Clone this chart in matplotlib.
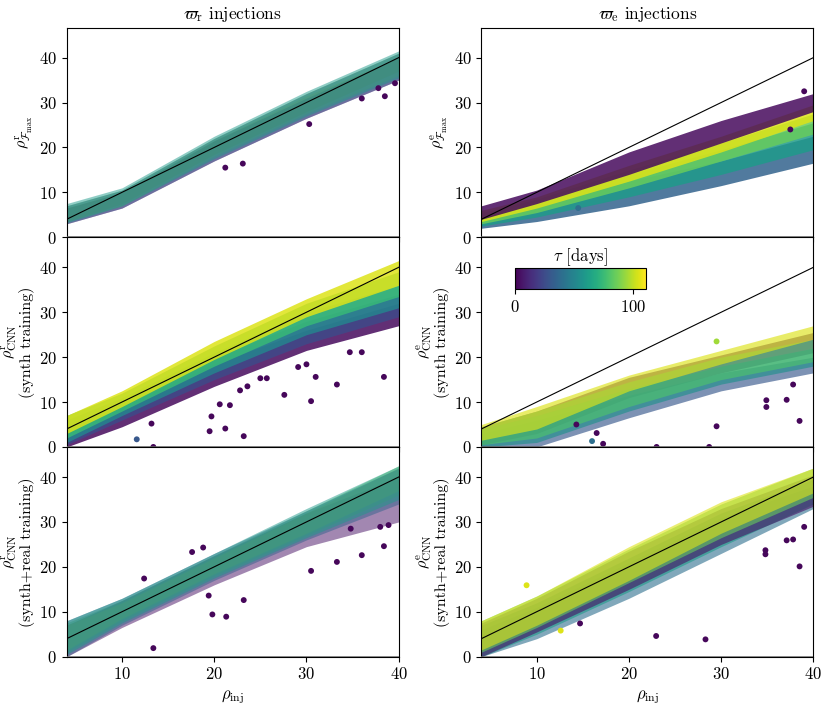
import numpy as np
import matplotlib
matplotlib.use("Agg")
import matplotlib.pyplot as plt
from matplotlib import cm, colors

plt.rcParams.update({
    "font.family": "serif",
    "font.serif": ["cmr10"],
    "mathtext.fontset": "cm",
    "axes.formatter.use_mathtext": True,
    "font.size": 12,
})

rho_inj = [4, 10, 20, 30, 40]

# --- row 1: F-statistic detection SNR ---
fmax_r_tau = [108, 5, 90, 30, 60]
fmax_r_lo = [[3.5, 7.5, 18.5, 28.0, 37.0], [3.0, 6.5, 17.0, 26.5, 35.0], [3.5, 7.0, 18.0, 27.5, 36.0],
             [3.0, 6.5, 17.0, 26.5, 35.0], [3.2, 7.0, 17.5, 27.0, 35.5]]
fmax_r_hi = [[6.5, 10.0, 21.5, 31.5, 40.0], [6.5, 10.0, 21.5, 31.0, 40.0], [7.0, 10.5, 22.0, 32.0, 41.0],
             [7.0, 10.5, 22.0, 32.0, 41.0], [7.5, 11.0, 22.5, 32.5, 41.5]]
fmax_r_out_x = [21.2, 23.1, 30.3, 38.5, 39.6, 37.8, 36.0]
fmax_r_out_y = [15.5, 16.4, 25.2, 31.4, 34.3, 33.2, 30.9]
fmax_r_out_tau = [2, 2, 2, 2, 2, 2, 2]

fmax_e_tau = [35, 60, 85, 105, 3]
fmax_e_lo = [[2.0, 3.5, 7.0, 11.5, 16.5], [2.5, 4.5, 9.0, 14.0, 19.5], [3.0, 5.5, 11.0, 17.0, 23.0],
             [3.5, 6.5, 12.5, 19.0, 26.0], [4.0, 7.5, 14.0, 21.0, 28.0]]
fmax_e_hi = [[4.0, 7.0, 12.5, 17.0, 22.5], [4.5, 7.5, 14.0, 19.5, 25.5], [5.5, 8.5, 15.0, 21.0, 27.5],
             [6.0, 9.0, 16.0, 22.5, 29.5], [7.0, 10.5, 19.0, 26.0, 32.0]]
fmax_e_out_x = [14.5, 37.5, 39.0]
fmax_e_out_y = [6.5, 24.0, 32.5]
fmax_e_out_tau = [40, 2, 2]

# --- row 2: CNN trained on synthetic data ---
cnn_r_tau = [3, 25, 50, 75, 105]
cnn_r_lo = [[0.0, 4.5, 13.5, 21.5, 27.0], [0.5, 6.0, 15.0, 23.0, 29.0], [1.0, 7.0, 16.5, 25.0, 31.0],
            [2.0, 8.0, 18.0, 27.0, 33.5], [3.0, 9.0, 19.5, 29.0, 36.0]]
cnn_r_hi = [[4.0, 9.0, 18.5, 26.0, 32.0], [5.0, 10.0, 20.0, 28.0, 34.0], [6.0, 11.0, 21.0, 30.0, 36.0],
            [7.0, 12.0, 22.5, 32.0, 39.0], [7.0, 12.5, 23.5, 33.0, 41.5]]
cnn_r_out_x = [30.0, 31.0, 29.1, 36.0, 34.7, 33.3, 30.5, 27.6, 38.4, 22.8, 23.6, 25.0, 25.7,
               20.6, 21.7, 19.7, 21.2, 19.5, 23.2, 13.2, 11.6, 13.4]
cnn_r_out_y = [18.4, 15.6, 17.8, 21.1, 21.1, 13.9, 10.2, 11.6, 15.6, 12.6, 13.5, 15.3, 15.3,
               9.5, 9.3, 6.8, 4.1, 3.5, 2.4, 5.2, 1.7, 0.0]
cnn_r_out_tau = [2] * 20 + [30, 2]

cnn_e_tau = [3, 30, 55, 80, 105]
cnn_e_lo = [[0.5, 3.0, 11.0, 16.5, 21.0], [0.0, 0.0, 6.5, 12.5, 16.5], [0.0, 1.0, 8.0, 14.0, 18.0],
            [0.5, 2.0, 9.0, 15.0, 19.0], [1.5, 4.0, 12.5, 18.5, 24.0]]
cnn_e_hi = [[4.5, 8.0, 15.5, 20.5, 25.5], [3.0, 6.0, 11.5, 16.5, 20.0], [4.0, 7.0, 13.0, 18.0, 22.0],
            [4.5, 8.0, 14.5, 20.0, 24.0], [5.0, 9.0, 16.0, 21.5, 27.0]]
cnn_e_out_x = [38.5, 37.1, 34.9, 34.9, 37.8, 29.5, 23.0, 28.7, 17.2, 16.0, 16.5, 14.3, 29.5]
cnn_e_out_y = [5.8, 10.5, 10.4, 8.9, 13.9, 4.6, 0.0, 0.0, 0.7, 1.3, 3.1, 5.0, 23.5]
cnn_e_out_tau = [2, 2, 2, 2, 2, 2, 2, 2, 2, 40, 2, 2, 95]

# --- row 3: CNN trained on synthetic + real data ---
real_r_tau = [5, 105, 85, 35, 60]
real_r_lo = [[0.0, 6.5, 16.0, 24.5, 30.0], [1.5, 8.5, 18.5, 27.5, 37.0], [1.0, 8.0, 18.0, 27.0, 36.0],
             [0.0, 7.0, 17.0, 26.0, 34.0], [0.5, 7.5, 17.5, 26.5, 35.0]]
real_r_hi = [[7.0, 12.5, 22.5, 32.0, 40.0], [7.0, 12.0, 22.0, 32.0, 42.0], [7.5, 12.5, 22.5, 32.5, 42.5],
             [8.0, 13.0, 23.0, 32.5, 42.0], [8.0, 13.0, 23.0, 33.0, 42.5]]
real_r_out_x = [38.4, 36.0, 33.3, 30.5, 23.2, 21.3, 19.8, 13.4, 19.4, 38.9, 38.0, 34.8, 18.8, 17.6, 12.4]
real_r_out_y = [24.6, 22.6, 21.1, 19.1, 12.6, 8.9, 9.4, 1.9, 13.6, 29.3, 28.9, 28.5, 24.3, 23.3, 17.4]
real_r_out_tau = [2] * 15

real_e_tau = [40, 60, 5, 85, 105]
real_e_lo = [[0.0, 4.0, 13.0, 23.0, 33.0], [0.0, 5.0, 14.5, 24.5, 34.0], [0.0, 5.5, 15.0, 25.0, 33.5],
             [1.0, 6.5, 16.5, 26.5, 35.5], [1.5, 7.0, 17.0, 27.5, 36.5]]
real_e_hi = [[6.0, 11.0, 21.0, 31.0, 38.0], [7.0, 12.0, 22.0, 32.0, 39.5], [7.5, 13.0, 23.5, 33.0, 40.5],
             [8.0, 13.5, 24.0, 34.0, 42.0], [8.0, 13.5, 24.5, 34.5, 42.0]]
real_e_out_x = [38.5, 34.8, 34.8, 37.1, 37.8, 39.0, 22.95, 28.3, 14.7, 8.9, 12.6]
real_e_out_y = [20.1, 22.8, 23.7, 25.9, 26.1, 28.9, 4.6, 3.85, 7.4, 15.9, 5.8]
real_e_out_tau = [2, 2, 2, 2, 2, 2, 2, 2, 2, 105, 105]

panels = [
    [(fmax_r_tau, fmax_r_lo, fmax_r_hi, fmax_r_out_x, fmax_r_out_y, fmax_r_out_tau),
     (fmax_e_tau, fmax_e_lo, fmax_e_hi, fmax_e_out_x, fmax_e_out_y, fmax_e_out_tau)],
    [(cnn_r_tau, cnn_r_lo, cnn_r_hi, cnn_r_out_x, cnn_r_out_y, cnn_r_out_tau),
     (cnn_e_tau, cnn_e_lo, cnn_e_hi, cnn_e_out_x, cnn_e_out_y, cnn_e_out_tau)],
    [(real_r_tau, real_r_lo, real_r_hi, real_r_out_x, real_r_out_y, real_r_out_tau),
     (real_e_tau, real_e_lo, real_e_hi, real_e_out_x, real_e_out_y, real_e_out_tau)],
]
# mixed-colour panels get lighter fills so the layers blend
band_alpha = [[0.5, 0.85], [0.85, 0.65], [0.5, 0.6]]

ylabels = [r"$\rho^{\rm %s}_{\mathcal{F}_{\max}}$",
           r"$\rho^{\rm %s}_{\rm CNN}$" + "\n(synth training)",
           r"$\rho^{\rm %s}_{\rm CNN}$" + "\n(synth+real training)"]
titles = [r"$\varpi_{\rm r}$ injections", r"$\varpi_{\rm e}$ injections"]
col_tags = ["r", "e"]

cmap = cm.viridis
norm = colors.Normalize(vmin=0, vmax=111)

fig, axes = plt.subplots(3, 2, figsize=(8.3, 7.06), dpi=100, sharex=True)
fig.subplots_adjust(left=0.0803, right=0.980, top=0.961, bottom=0.0699, hspace=0.0, wspace=0.249)

for i in range(3):
    for j in range(2):
        ax = axes[i, j]
        tau, lo, hi, ox, oy, otau = panels[i][j]
        for t, l, h in zip(tau, lo, hi):
            ax.fill_between(rho_inj, l, h, color=cmap(norm(t)), alpha=band_alpha[i][j], lw=0)
        ax.scatter(ox, oy, c=otau, cmap=cmap, norm=norm, s=18, edgecolors="none")
        ax.axline((0, 0), slope=1, color="k", lw=0.8)
        ax.axhline(0, color="0.4", lw=1.8, zorder=3)
        ax.set_xlim(4, 40)
        ax.set_ylim(0, 46.7)
        ax.set_yticks([0, 10, 20, 30, 40])
        ax.set_ylabel(ylabels[i] % col_tags[j], fontsize=11.5, linespacing=0.95, labelpad=3)
        if i == 0:
            ax.set_title(titles[j], fontsize=12.5)
        if i == 2:
            ax.set_xlabel(r"$\rho_{\rm inj}$")
            ax.set_xticks([10, 20, 30, 40])

cax = axes[1, 1].inset_axes([0.1, 0.751, 0.395, 0.103])
cb = fig.colorbar(cm.ScalarMappable(norm=norm, cmap=cmap), cax=cax, orientation="horizontal")
cb.set_ticks([0, 100])
cax.set_title(r"$\tau$ [days]", fontsize=12, pad=3)

fig.savefig("out.png", dpi=100)
